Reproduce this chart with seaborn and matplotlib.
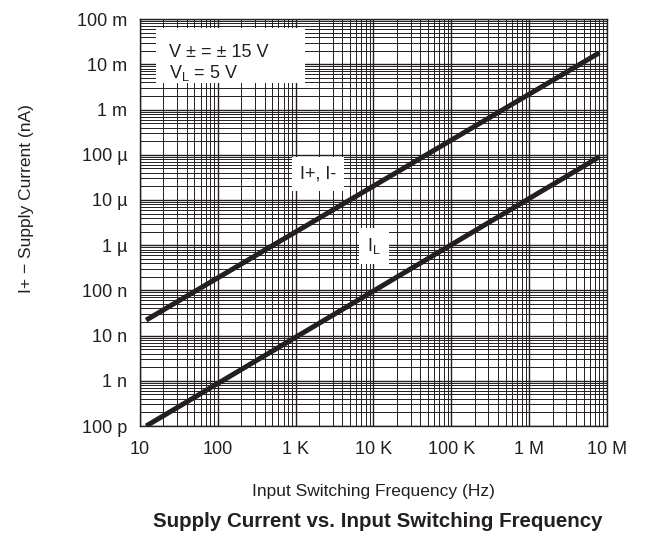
import numpy as np
import pandas as pd
import seaborn as sns
import matplotlib.pyplot as plt
from matplotlib.ticker import LogLocator, NullFormatter

# Data
freq_hz = [12, 8.0e6]
i_supply = [2.2e-8, 1.8e-2]   # I+, I-
i_logic = [1.0e-10, 9.0e-5]   # IL

x_ticks = [1e1, 1e2, 1e3, 1e4, 1e5, 1e6, 1e7]
x_labels = ["10", "100", "1 K", "10 K", "100 K", "1 M", "10 M"]
y_ticks = [1e-10, 1e-9, 1e-8, 1e-7, 1e-6, 1e-5, 1e-4, 1e-3, 1e-2, 1e-1]
y_labels = ["100 p", "1 n", "10 n", "100 n", "1 \u00b5", "10 \u00b5", "100 \u00b5", "1 m", "10 m", "100 m"]

df = pd.DataFrame({
    "freq": freq_hz * 2,
    "current": i_supply + i_logic,
    "series": ["I+, I-"] * 2 + ["IL"] * 2,
})

sns.set_style("white")
plt.rcParams["font.family"] = ["Liberation Sans", "DejaVu Sans"]
ink = "#231f20"

fig = plt.figure(figsize=(6.45, 5.33), dpi=100)
ax = fig.add_axes([0.217, 0.2007, 0.724, 0.7635])

sns.lineplot(data=df, x="freq", y="current", units="series", estimator=None,
             color=ink, linewidth=3.6, ax=ax, legend=False,
             solid_capstyle="butt", zorder=5)

ax.set_xscale("log")
ax.set_yscale("log")
ax.set_xlim(10, 1e7)
ax.set_ylim(1e-10, 1e-1)

ax.set_xticks(x_ticks)
ax.set_xticklabels(x_labels)
ax.set_yticks(y_ticks)
ax.set_yticklabels(y_labels)
ax.xaxis.set_minor_locator(LogLocator(base=10, subs=np.arange(2, 10), numticks=20))
ax.yaxis.set_minor_locator(LogLocator(base=10, subs=np.arange(2, 10), numticks=20))
ax.xaxis.set_minor_formatter(NullFormatter())
ax.yaxis.set_minor_formatter(NullFormatter())
ax.tick_params(which="both", length=0, labelsize=13, colors=ink)
ax.tick_params(axis="x", pad=11)
ax.tick_params(axis="y", pad=9)

ax.grid(which="major", color=ink, linewidth=1.0)
ax.grid(which="minor", color=ink, linewidth=0.7)
for s in ax.spines.values():
    s.set_color(ink)
    s.set_linewidth(1.0)

ax.set_xlabel("Input Switching Frequency (Hz)", fontsize=12.5, color=ink)
ax.set_ylabel("I+ \u2212 Supply Current (nA)", fontsize=12.5, color=ink)
ax.xaxis.set_label_coords(0.5, -0.143)
ax.yaxis.set_label_coords(-0.226, 0.56)

# condition box
box = plt.Rectangle((0.034, 0.844), 0.319, 0.135, transform=ax.transAxes,
                    facecolor="white", edgecolor="none", zorder=6)
ax.add_patch(box)
ax.text(0.062, 0.918, "V \u00b1 = \u00b1 15 V", transform=ax.transAxes,
        fontsize=13, va="center", ha="left", color=ink, zorder=7)
ax.text(0.062, 0.868, "V$_\\mathregular{L}$ = 5 V", transform=ax.transAxes,
        fontsize=13, va="center", ha="left", color=ink, zorder=7)

# curve labels
ax.text(1.94e3, 3.76e-5, "I+, I-", fontsize=13, ha="center", va="center", color=ink,
        bbox=dict(facecolor="white", edgecolor="none", boxstyle="square,pad=0.45"), zorder=6)
ax.text(1.02e4, 9.6e-7, "I$_\\mathregular{L}$", fontsize=13, ha="center", va="center", color=ink,
        bbox=dict(facecolor="white", edgecolor="none", boxstyle="square,pad=0.45"), zorder=6)

fig.text(0.586, 0.0225, "Supply Current vs. Input Switching Frequency", fontsize=14.8,
         fontweight="bold", ha="center", va="center", color=ink)

fig.savefig("out.png", dpi=100)
